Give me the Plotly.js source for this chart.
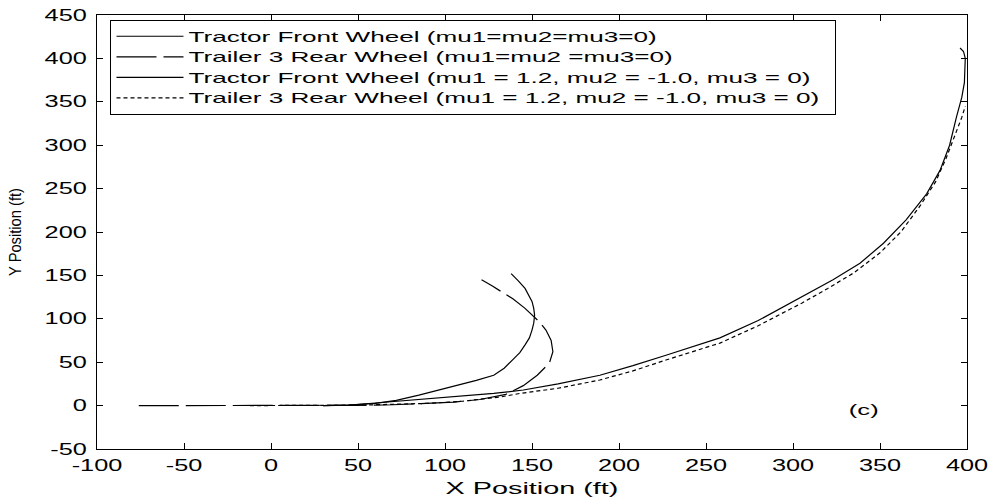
<!DOCTYPE html>
<html>
<head>
<meta charset="utf-8">
<script src="https://cdn.plot.ly/plotly-3.0.1.min.js"></script>
<style>
html,body{margin:0;padding:0;background:#fff;}
#chart{width:992px;height:501px;}
</style>
</head>
<body>
<div id="chart"></div>
<script>
// Tractor Front Wheel (mu1=mu2=mu3=0)
const tractor0X = [30, 45, 60, 72, 85, 97, 108, 118, 128, 134, 139, 143, 146, 148.5, 150, 151, 151.5, 151, 150, 148, 146, 142, 138];
const tractor0Y = [0, 0.5, 2.5, 6, 12, 18, 24, 29, 35, 43, 53, 61, 70, 78, 87, 95, 104, 112, 120, 128, 135, 144, 152];
// Trailer 3 Rear Wheel (mu1=mu2=mu3=0)
const trailer0X = [-76, -40, 0, 30, 50, 70, 90, 105, 120, 135, 145, 153, 160, 162, 161, 158, 154, 146, 139, 132, 127, 121];
const trailer0Y = [0, 0, 0, 0, 0.3, 1, 2.5, 4, 7, 13, 23, 35, 49, 62, 75, 87, 97, 112, 123, 132, 138, 145];
// Tractor Front Wheel (mu1 = 1.2, mu2 = -1.0, mu3 = 0)
const tractor1X = [30, 45, 60, 80, 100, 115, 128, 145, 165, 189, 208, 227, 258, 280, 308, 323, 338.5, 352, 365, 376.8, 384.5, 390, 394, 397, 398.5, 399, 399, 398, 396];
const tractor1Y = [0, 0.7, 3, 6, 9, 11.5, 14, 18, 25, 35, 46, 58, 78, 98, 129, 145, 164, 187, 214, 244, 271, 300, 333, 355, 372, 388, 400, 408, 412];
// Trailer 3 Rear Wheel (mu1 = 1.2, mu2 = -1.0, mu3 = 0)
const trailer1X = [-12, 10, 30, 50, 70, 91, 110, 132, 143, 165, 189, 208, 227, 258, 280, 305, 320, 335, 350, 362, 373, 382, 388, 393, 397, 399];
const trailer1Y = [0, 0, 0, 0.5, 1.5, 2.6, 5, 10, 14, 20, 29.5, 40, 52.5, 72, 92, 118, 135, 153, 176, 200, 230, 258, 285, 310, 332, 345];

const names = [
  'Tractor Front Wheel (mu1=mu2=mu3=0)',
  'Trailer 3 Rear Wheel (mu1=mu2 =mu3=0)',
  'Tractor Front Wheel (mu1 = 1.2, mu2 = -1.0, mu3 = 0)',
  'Trailer 3 Rear Wheel (mu1 = 1.2, mu2 = -1.0, mu3 = 0)'
];
const xTicks = [-100, -50, 0, 50, 100, 150, 200, 250, 300, 350, 400];
const yTicks = [-50, 0, 50, 100, 150, 200, 250, 300, 350, 400, 450];

const FONT = 'Liberation Sans, Arial, sans-serif';
const traces = [
  {x: tractor0X, y: tractor0Y, name: names[0], mode: 'lines', line: {color: '#000', width: 1.2, dash: 'solid'}},
  {x: trailer0X, y: trailer0Y, name: names[1], mode: 'lines', line: {color: '#000', width: 1.2, dash: '40px,7px'}},
  {x: tractor1X, y: tractor1Y, name: names[2], mode: 'lines', line: {color: '#000', width: 1.2, dash: 'solid'}},
  {x: trailer1X, y: trailer1Y, name: names[3], mode: 'lines', line: {color: '#000', width: 1.2, dash: '4px,3px'}}
];

const axisCommon = {
  showgrid: false, zeroline: false, showline: true, linecolor: '#000', linewidth: 1,
  mirror: 'ticks', ticks: 'inside', ticklen: 6, tickcolor: '#000',
  tickfont: {family: FONT, size: 16, color: '#000'}
};

const layout = {
  width: 992, height: 501,
  margin: {l: 97, r: 25, t: 15, b: 52},
  paper_bgcolor: '#fff', plot_bgcolor: '#fff',
  font: {family: FONT, color: '#000'},
  xaxis: Object.assign({}, axisCommon, {
    range: [-100, 400], tickvals: xTicks, ticktext: xTicks.map(String),
    ticklabelstandoff: 2,
    title: {text: 'X Position (ft)', font: {family: FONT, size: 16, color: '#000'}, standoff: 9}
  }),
  yaxis: Object.assign({}, axisCommon, {
    range: [-50, 450], tickvals: yTicks, ticktext: yTicks.map(String),
    ticklabelstandoff: 6,
    title: {text: 'Y Position (ft)', font: {family: FONT, size: 16, color: '#000'}, standoff: 34}
  }),
  showlegend: true,
  legend: {
    x: 0.0155, y: 0.9885, xanchor: 'left', yanchor: 'top',
    bgcolor: '#fff', bordercolor: '#000', borderwidth: 1,
    font: {family: FONT, size: 13.5, color: '#000'},
    itemwidth: 67, tracegroupgap: 0
  },
  annotations: [{
    x: 341, y: -4, xref: 'x', yref: 'y', text: '(c)', showarrow: false,
    font: {family: FONT, size: 15, color: '#000'}
  }]
};

// The reference's lettering is horizontally stretched; widen glyphs of horizontal texts.
function widen(gd, selector, factor) {
  gd.querySelectorAll(selector).forEach(function (t) {
    const w = t.getComputedTextLength();
    if (w > 0) {
      t.setAttribute('textLength', (w * factor).toFixed(1));
      t.setAttribute('lengthAdjust', 'spacingAndGlyphs');
    }
  });
}
function setLength(gd, selector, len) {
  gd.querySelectorAll(selector).forEach(function (t) {
    t.setAttribute('textLength', String(len));
    t.setAttribute('lengthAdjust', 'spacingAndGlyphs');
  });
}

Plotly.newPlot('chart', traces, layout, {displayModeBar: false, staticPlot: true}).then(function (gd) {
  widen(gd, '.xtick text', 1.58);
  widen(gd, '.ytick text', 1.58);
  widen(gd, '.xtitle', 1.8);
  widen(gd, '.annotation-text', 1.7);
  setLength(gd, '.ytitle', 88);
  // legend: slightly larger glyphs, stretched, and a box as wide as the reference's
  gd.querySelectorAll('.legendtext').forEach(function (t) { t.style.fontSize = '15px'; });
  widen(gd, '.legendtext', 1.74);
  gd.querySelectorAll('.legend .scrollbox').forEach(function (s) { s.removeAttribute('clip-path'); });
  const bg = gd.querySelector('.legend .bg');
  if (bg) {
    const left = bg.getBoundingClientRect().left - gd.getBoundingClientRect().left;
    bg.setAttribute('width', String(835 - left));
  }
});
</script>
</body>
</html>
